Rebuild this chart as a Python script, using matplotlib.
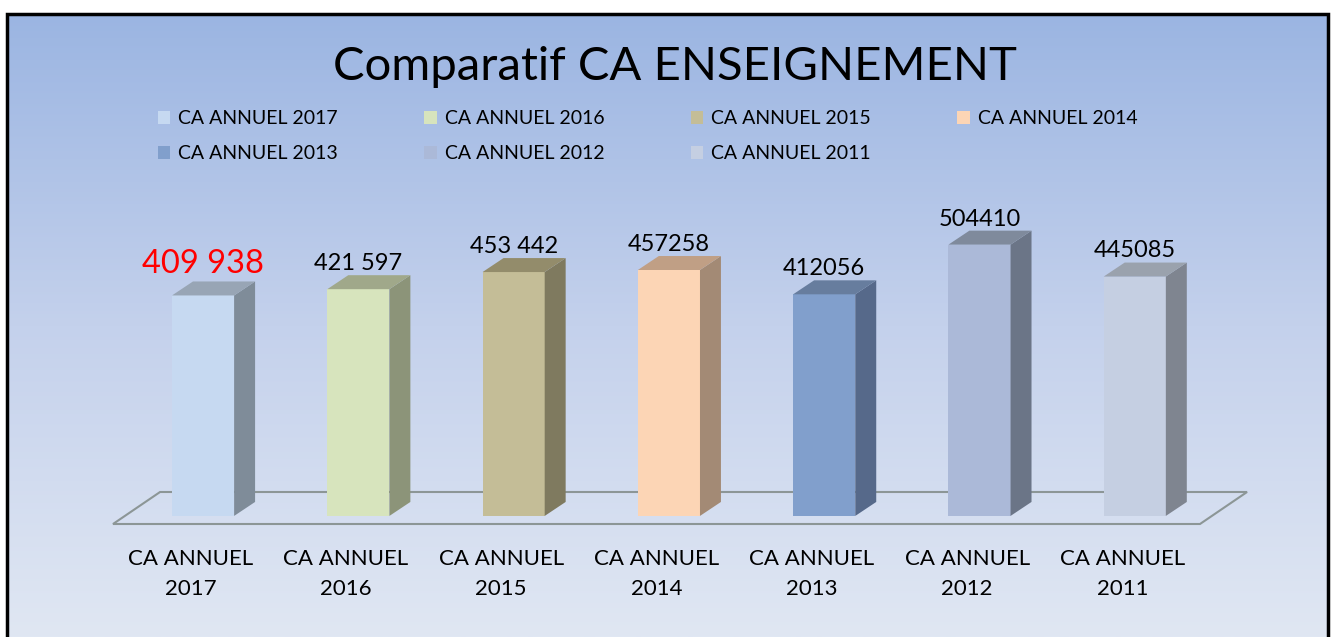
import numpy as np
import matplotlib.pyplot as plt
from matplotlib.patches import Polygon, Rectangle, Patch
from matplotlib.colors import LinearSegmentedColormap

plt.rcParams['font.family'] = ['Lato', 'DejaVu Sans']

categories = ['CA ANNUEL 2017', 'CA ANNUEL 2016', 'CA ANNUEL 2015', 'CA ANNUEL 2014',
              'CA ANNUEL 2013', 'CA ANNUEL 2012', 'CA ANNUEL 2011']
tick_labels = ['CA ANNUEL\n2017', 'CA ANNUEL\n2016', 'CA ANNUEL\n2015', 'CA ANNUEL\n2014',
               'CA ANNUEL\n2013', 'CA ANNUEL\n2012', 'CA ANNUEL\n2011']
values = [409938, 421597, 453442, 457258, 412056, 504410, 445085]
value_labels = ['409 938', '421 597', '453 442', '457258', '412056', '504410', '445085']

front_colors = ['#c6d9f1', '#d7e4bd', '#c4bd97', '#fcd5b5', '#819fcc', '#abb9d8', '#c5cfe2']
side_colors = ['#7f8c99', '#8c9479', '#7f7a5f', '#a38a75', '#56698a', '#6b7587', '#7f8590']
top_colors = ['#98a5b5', '#a0a88a', '#938c6b', '#c09f85', '#677d9e', '#7f8a9c', '#9aa2ad']

fig = plt.figure(figsize=(13.32, 6.37), dpi=100)

# background gradient inside the frame
bg = fig.add_axes([0, 0, 1, 1], zorder=-10)
bg.set_axis_off()
cmap = LinearSegmentedColormap.from_list('bg', ['#9bb5e2', '#c4d1ec', '#e0e7f3'])
grad = np.linspace(0, 1, 256).reshape(-1, 1)
bg.imshow(grad, cmap=cmap, aspect='auto', extent=[7 / 1332, 1328 / 1332, 0, 1 - 14 / 637])
bg.set_xlim(0, 1)
bg.set_ylim(0, 1)
bg.add_patch(Rectangle((7 / 1332, -0.01), 1321 / 1332, 1.01 - 14 / 637, fill=False,
                       edgecolor='black', linewidth=2.5))

ax = fig.add_axes([113 / 1332, (637 - 524) / 637, 1087 / 1332, 334 / 637])
ax.set_xlim(-0.5, 6.5)
ax.set_ylim(-15000, 606000)
ax.patch.set_alpha(0)
for s in ax.spines.values():
    s.set_visible(False)
ax.set_yticks([])

x = np.arange(len(values))
shift = 0.08
width = 0.4
dx = 0.135
dy = 26000

# floor
floor_front = -15000
floor_back = 44500
floor_dx = 0.303
ax.add_patch(Polygon([(-0.5, floor_front), (6.5, floor_front), (6.5 + floor_dx, floor_back),
                      (-0.5 + floor_dx, floor_back)], closed=True, facecolor='none',
                     edgecolor='#8c9696', linewidth=1.5, zorder=1, clip_on=False))

ax.bar(x + shift, values, width=width, color=front_colors, zorder=3)
for i, v in enumerate(values):
    left = x[i] + shift - width / 2
    right = x[i] + shift + width / 2
    ax.add_patch(Polygon([(right, 0), (right + dx, dy), (right + dx, v + dy), (right, v)],
                         closed=True, facecolor=side_colors[i], edgecolor='none', zorder=3,
                         clip_on=False))
    ax.add_patch(Polygon([(left, v), (left + dx, v + dy), (right + dx, v + dy), (right, v)],
                         closed=True, facecolor=top_colors[i], edgecolor='none', zorder=3,
                         clip_on=False))
    if i == 0:
        ax.text(x[i] + shift, v + dy + 4000, value_labels[i], ha='center', va='bottom',
                fontsize=23.5, color='red')
    else:
        ax.text(x[i] + shift, v + dy + 2000, value_labels[i], ha='center', va='bottom',
                fontsize=17, color='black')

ax.set_xticks(x)
ax.set_xticklabels(tick_labels, fontsize=16, linespacing=1.6)
ax.tick_params(axis='x', length=0, pad=18)

fig.text(0.507, 0.895, 'Comparatif CA ENSEIGNEMENT', ha='center', va='center', fontsize=34)

# legend, row-major order
handles = [Patch(facecolor=c, edgecolor='none') for c in front_colors]
order = [0, 4, 1, 5, 2, 6, 3]
fig.legend([handles[i] for i in order], [categories[i] for i in order], ncol=4,
           loc='upper left', bbox_to_anchor=(140 / 1332, 1 - 93 / 637), frameon=False,
           fontsize=14, handlelength=0.65, handleheight=0.65, handletextpad=0.4,
           columnspacing=4.45, labelspacing=0.9)

fig.savefig('out.png', dpi=100)
